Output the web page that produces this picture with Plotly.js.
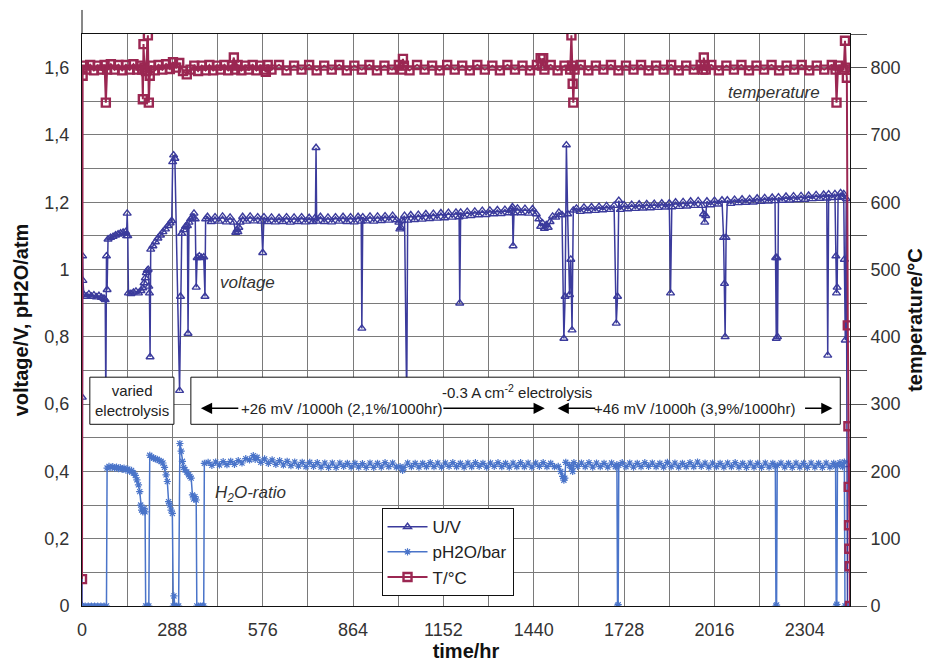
<!DOCTYPE html>
<html>
<head>
<meta charset="utf-8">
<script src="https://cdn.plot.ly/plotly-3.0.1.min.js"></script>
<style>html,body{margin:0;padding:0;background:#fff;}#chart{width:934px;height:662px;}</style>
</head>
<body>
<div id="chart"></div>
<script>
// ---- Data ----
// Cell voltage U/V
const uT = [0,1,2,3,6,14,22,30,38,46, 54,62,70,74,76,78,80,83,91,99, 107,115,123,131,139,142,144,146,148,156,
 164,172,180,188,194,198,202,205,208,211, 213,215,217,219,226,234,242,250,258,266, 274,281,286,289,292,296,311,314,318,324,
 330,336,338,341,346,352,357,361,364,367, 374,381,388,392,394,
 400,412,424,436,448,460,472,484,490,494, 497,500,504,512,524,536,548,560,572,576, 580,592,604,616,628,640,652,664,676,688,
 700,712,724,736,744,746,748,760,772,784, 796,808,820,832,844,856,868,880,890,892, 895,906,918,930,942,954,966,978,990,1002,
 1010,1013,1016,1020,1028,1035,1038,1048,1060,1072, 1084,1096,1108,1120,1132,1144,1156,1168,1180,1192,
 1202,1204,1207,1216,1228,1240,1252,1264,1276,1288, 1300,1312,1324,1336,1348,1360,1370,1372,1374,1377,
 1388,1400,1412,1424,1436,1448,1456,1462,1468,1474, 1480,1486,1492,1500,1510,1520,1530,1536,1540,1544,
 1548,1554,1558,1562,1566,1576,1588,1600,1612,1624, 1636,1648,1660,1672,1684,1696,1703,1707,1711,1716,
 1728,1740,1752,1764,1776,1788,1800,1812,1824,1836, 1848,1860,1872,1876,1880,1892,1904,1916,1928,1940,
 1952,1964,1976,1981,1985,1988,1992,2004,2016,2028, 2040,2045,2048,2050,2053,2057,2068,2080,2092,2104,
 2116,2128,2140,2152,2164,2176,2188,2200,2209,2211, 2213,2215,2217,2220,2232,2244,2256,2268,2280,2292,
 2304,2316,2328,2340,2352,2364,2374,2377,2380,2390, 2400,2403,2405,2407,2410,2418,2424,2428,2430,2433,
 2436,2438,2440,2443,2446];
const uV = [0,0.62,1.04,0.967,0.925,0.92,0.927,0.92,0.924,0.918, 0.922,0.917,0.914,0.91,0.60,1.04,0.94,1.09,1.095,1.098,
 1.102,1.105,1.108,1.11,1.112,1.10,1.167,1.10,0.93,0.928, 0.932,0.935,0.93,0.937,0.945,0.96,0.975,0.99,0.997,1.00,
 0.95,0.93,0.74,1.06,1.07,1.082,1.093,1.102,1.112,1.12, 1.13,1.138,1.145,1.32,1.34,1.33,0.64,0.92,1.107,1.118,
 1.128,1.13,0.81,1.14,1.15,1.155,1.167,1.15,0.947,1.035, 1.04,1.035,1.037,0.92,1.15,
 1.157,1.142,1.156,1.143,1.158,1.141,1.155,1.14,1.11,1.118, 1.112,1.125,1.14,1.157,1.143,1.158,1.144,1.156,1.143,1.05,
 1.156,1.142,1.155,1.141,1.154,1.142,1.156,1.14,1.155,1.142, 1.156,1.141,1.154,1.142,1.155,1.362,1.143,1.157,1.142,1.155,
 1.141,1.156,1.143,1.157,1.142,1.156,1.141,1.157,1.143,0.825, 1.156,1.144,1.158,1.143,1.158,1.145,1.159,1.146,1.16,1.147,
 1.14,1.12,1.125,1.145,1.16,0.60,1.146,1.162,1.148,1.163, 1.149,1.165,1.151,1.166,1.152,1.168,1.153,1.169,1.155,1.17,
 1.156,0.90,1.17,1.158,1.172,1.16,1.173,1.162,1.175,1.163, 1.176,1.165,1.177,1.166,1.178,1.168,1.179,1.186,1.07,1.168,
 1.182,1.168,1.181,1.167,1.18,1.165,1.15,1.128,1.138,1.122, 1.133,1.125,1.142,1.158,1.155,1.17,1.162,0.795,0.92,1.37,
 1.165,0.925,1.03,0.82,1.176,1.182,1.172,1.185,1.174,1.186, 1.175,1.187,1.177,1.189,1.178,1.19,0.84,0.92,1.205,1.178,
 1.192,1.18,1.193,1.181,1.194,1.182,1.195,1.183,1.196,1.184, 1.197,1.185,1.197,0.93,1.186,1.2,1.187,1.201,1.188,1.203,
 1.19,1.204,1.19,1.165,1.14,1.16,1.203,1.192,1.205,1.194, 1.206,1.095,0.958,0.80,1.095,1.206,1.196,1.208,1.198,1.209,
 1.199,1.21,1.2,1.212,1.202,1.213,1.203,1.214,1.204,1.035, 0.795,1.035,0.80,1.215,1.205,1.217,1.206,1.218,1.207,1.219,
 1.208,1.22,1.21,1.222,1.211,1.223,1.212,0.745,1.224,1.213, 1.225,1.04,0.93,0.947,1.214,1.228,1.216,1.225,1.03,0.79,
 1.21,0.42,0,0,0];

// Water partial pressure pH2O/bar
const pT = [0,10,20,30,40,50,60,70,78,80, 86,92,98,104,110,116,122,128,134,140, 146,152,158,164,170,175,180,184,187,190,
 194,198,201,203,208,213,216,222,228,234, 240,246,252,258,263,268,272,276,280,284, 288,291,293,296,302,308,312,316,320,324,
 328,334,340,344,348,352,356,360,364,366, 372,378,384,388,390,
 402,414,426,438,450,462,474,486,498,510, 522,534,546,552,558,570,582,594,606,618, 630,642,654,666,678,690,702,714,726,738,
 750,762,774,786,798,810,822,834,846,858, 870,882,894,906,918,930,942,954,966,978, 990,1002,1014,1022,1026,1038,1050,1062,1074,1086,
 1098,1110,1122,1134,1146,1158,1170,1182,1194,1206, 1218,1230,1242,1254,1266,1278,1290,1302,1314,1326,
 1338,1350,1362,1374,1386,1398,1410,1422,1434,1446, 1458,1470,1482,1494,1506,1518,1526,1532,1536,1539,
 1542,1554,1560,1564,1568,1580,1592,1604,1616,1628, 1640,1652,1664,1676,1688,1700,1705,1707,1709,1711,
 1722,1734,1746,1758,1770,1782,1794,1806,1818,1830, 1842,1854,1866,1878,1890,1902,1914,1926,1938,1950,
 1962,1974,1986,1998,2010,2022,2034,2046,2058,2070, 2082,2094,2106,2118,2130,2142,2154,2166,2178,2190,
 2202,2210,2212,2214,2216,2228,2240,2252,2264,2276, 2288,2300,2312,2324,2336,2348,2360,2372,2384,2396,
 2402,2404,2406,2408,2416,2424,2430,2432,2436,2440, 2444];
const pV = [0,0,0,0,0,0,0,0,0,0.41, 0.415,0.412,0.414,0.41,0.413,0.408,0.411,0.406,0.41,0.404,
 0.407,0.40,0.403,0.395,0.388,0.375,0.36,0.34,0.30,0.285, 0.28,0.29,0.28,0,0,0,0.448,0.442,0.44,0.437,
 0.436,0.432,0.43,0.425,0.412,0.39,0.37,0.31,0.30,0.285, 0.275,0,0.03,0,0,0,0.483,0.46,0.43,0.412,
 0.405,0.398,0.39,0.385,0.38,0.33,0.318,0.325,0.315,0, 0,0,0,0,0.424,
 0.427,0.418,0.428,0.419,0.429,0.42,0.43,0.421,0.432,0.425, 0.438,0.434,0.447,0.436,0.442,0.427,0.437,0.424,0.434,0.421,
 0.432,0.419,0.43,0.417,0.428,0.416,0.427,0.414,0.427,0.415, 0.426,0.413,0.425,0.412,0.425,0.412,0.425,0.415,0.424,0.413,
 0.424,0.413,0.423,0.412,0.425,0.412,0.424,0.413,0.426,0.414, 0.425,0.413,0.414,0.403,0.412,0.425,0.414,0.424,0.413,0.424,
 0.414,0.426,0.414,0.425,0.413,0.425,0.415,0.426,0.414,0.424, 0.413,0.425,0.414,0.426,0.415,0.424,0.413,0.425,0.415,0.426,
 0.414,0.424,0.413,0.425,0.414,0.426,0.414,0.425,0.413,0.425, 0.415,0.426,0.414,0.424,0.414,0.415,0.40,0.385,0.374,0.38,
 0.427,0.418,0.41,0.40,0.426,0.415,0.425,0.414,0.426,0.413, 0.425,0.414,0.424,0.413,0.425,0.414,0.42,0,0.004,0.418,
 0.426,0.414,0.425,0.413,0.424,0.414,0.426,0.415,0.425,0.414, 0.424,0.413,0.427,0.414,0.425,0.413,0.424,0.414,0.426,0.414,
 0.428,0.415,0.425,0.413,0.425,0.414,0.424,0.413,0.425,0.414, 0.426,0.413,0.424,0.412,0.425,0.413,0.424,0.412,0.425,0.413,
 0.424,0.415,0,0.003,0.418,0.425,0.413,0.424,0.412,0.425, 0.413,0.424,0.412,0.425,0.413,0.424,0.412,0.425,0.413,0.424,
 0.415,0,0.005,0.418,0.426,0.414,0.428,0,0,0, 0];

// Temperature T/°C
const tT = [0,2,6,14,26,38,50,62,72,76, 80,92,104,116,128,140,152,164,176,186, 192,194,196,199,204,210,213,216,220,232,
 244,256,268,280,290,300,310,322,334,346, 358,370,382,394,406,418,430,442,454,466, 478,484,488,496,508,520,532,544,556,568,
 580,586,592,604,628,652,676,700,724,748, 772,796,820,844,868,892,916,940,964,988, 1010,1020,1023,1026,1044,1068,1092,1116,1140,1164,
 1188,1212,1236,1260,1284,1308,1332,1356,1380,1404, 1428,1450,1462,1466,1470,1474,1494,1516,1538,1556,
 1560,1562,1564,1566,1570,1590,1614,1638,1662,1686, 1710,1734,1758,1782,1806,1830,1854,1878,1902,1926,
 1950,1972,1980,1982,1985,1988,2006,2030,2054,2078, 2102,2126,2150,2174,2198,2222,2246,2270,2294,2318,
 2342,2366,2390,2402,2405,2410,2428,2432,2435,2438, 2441,2443,2444,2445,2446,2447,2448];
const tV = [40,788,803,797,804,796,803,797,804,748, 797,805,797,804,796,804,797,805,797,803, 797,753,835,800,795,848,748,788,803,796,
 804,797,805,798,808,800,807,795,790,797, 803,795,803,796,804,796,803,797,804,796, 803,815,797,804,796,803,797,804,796,803,
 797,794,804,797,804,796,803,797,804,796, 803,797,804,796,803,797,804,796,803,797, 804,797,813,803,796,804,797,803,796,804,
 797,803,796,804,797,803,796,804,797,803, 796,804,814,803,814,797,804,796,803,797,
 848,803,776,748,797,804,796,803,797,804, 796,803,797,804,796,803,797,804,796,803,
 797,804,797,815,803,797,804,796,803,797, 804,796,803,797,804,796,803,797,804,796,
 803,797,804,797,748,803,797,840,800,785, 417,267,177,120,85,59,0];

// ---- Styling ----
const FONT = 'Liberation Sans, Arial, sans-serif';
const cU = '#3b3b9c', cP = '#4a74c9', cT = '#9b2752';
const grid = '#7a7a7a';

const traces = [
  {x: uT, y: uV, name: 'U/V', type: 'scatter', mode: 'lines+markers', yaxis: 'y',
   line: {color: cU, width: 1.5},
   marker: {symbol: 'triangle-up-open', size: 7, color: cU, line: {width: 1.4, color: cU}}},
  {x: pT, y: pV, name: 'pH2O/bar', type: 'scatter', mode: 'lines+markers', yaxis: 'y',
   line: {color: cP, width: 1.5},
   marker: {symbol: 'asterisk-open', size: 6, color: cP, line: {width: 1.2, color: cP}}},
  {x: tT, y: tV, name: 'T/°C', type: 'scatter', mode: 'lines+markers', yaxis: 'y2',
   line: {color: cT, width: 2},
   marker: {symbol: 'square-open', size: 8, color: cT, line: {width: 2.4, color: cT}}}
];

const arrowStyle = {showarrow: true, text: '', axref: 'x', ayref: 'y', xref: 'x', yref: 'y',
  arrowhead: 2, arrowsize: 1.4, arrowwidth: 1.6, arrowcolor: '#000'};

const layout = {
  width: 934, height: 662,
  margin: {l: 82, r: 84, t: 34, b: 56},
  paper_bgcolor: '#fff', plot_bgcolor: '#fff',
  separators: ',.',
  font: {family: FONT, size: 17, color: '#222'},
  showlegend: true,
  hovermode: false,
  xaxis: {
    range: [0, 2448], tick0: 0, dtick: 288, automargin: false,
    showgrid: true, gridcolor: grid, gridwidth: 1,
    minor: {dtick: 144, showgrid: true, gridcolor: grid, gridwidth: 1},
    showline: true, linecolor: '#111', linewidth: 1, mirror: true, zeroline: false,
    ticks: 'outside', ticklen: 7, tickcolor: 'rgba(0,0,0,0)',
    tickfont: {family: FONT, size: 18, color: '#333'},
    title: {text: '<b>time/hr</b>', font: {family: FONT, size: 20, color: '#111'}, standoff: 3}
  },
  yaxis: {
    range: [0, 1.7], tick0: 0, dtick: 0.2, automargin: false,
    showgrid: true, gridcolor: grid, gridwidth: 1,
    minor: {dtick: 0.1, showgrid: true, gridcolor: grid, gridwidth: 1},
    showline: true, linecolor: '#111', linewidth: 1, mirror: true, zeroline: false,
    ticks: 'outside', ticklen: 8, tickcolor: 'rgba(0,0,0,0)',
    tickfont: {family: FONT, size: 18, color: '#333'},
    title: {text: '<b>voltage/V, pH2O/atm</b>', font: {family: FONT, size: 20, color: '#111'}, standoff: 10}
  },
  yaxis2: {
    overlaying: 'y', side: 'right', range: [0, 850], tick0: 0, dtick: 100, automargin: false,
    showgrid: false, zeroline: false, showline: false,
    ticks: 'outside', ticklen: 16, tickcolor: '#555', tickwidth: 1,
    minor: {dtick: 50, ticks: 'outside', ticklen: 16, tickcolor: '#555', showgrid: false},
    tickfont: {family: FONT, size: 18, color: '#333'},
    title: {text: '<b>temperature/°C</b>', font: {family: FONT, size: 20, color: '#111'}, standoff: 8}
  },
  legend: {
    x: 0.39, y: 0.171, xanchor: 'left', yanchor: 'top',
    bgcolor: '#fff', bordercolor: '#111', borderwidth: 1, itemwidth: 40,
    font: {family: FONT, size: 17, color: '#222'}, tracegroupgap: 0
  },
  shapes: [
    {type: 'rect', xref: 'x', yref: 'y', x0: 25, x1: 293, y0: 0.54, y1: 0.68,
     fillcolor: '#fff', line: {color: '#111', width: 1}, layer: 'above'},
    {type: 'rect', xref: 'x', yref: 'y', x0: 347, x1: 2417, y0: 0.54, y1: 0.68,
     fillcolor: '#fff', line: {color: '#111', width: 1}, layer: 'above'},
    {type: 'line', xref: 'paper', yref: 'paper', x0: 0, x1: 0, y0: 1, y1: 1.042,
     line: {color: '#111', width: 1}}
  ],
  annotations: [
    {x: 433, y: 0.962, xref: 'x', yref: 'y', xanchor: 'left', showarrow: false,
     text: '<i>voltage</i>', font: {family: FONT, size: 17, color: '#333'}},
    {x: 417, y: 0.332, xref: 'x', yref: 'y', xanchor: 'left', showarrow: false,
     text: '<i>H<sub>2</sub>O-ratio</i>', font: {family: FONT, size: 17, color: '#333'}},
    {x: 2360, y: 763, xref: 'x', yref: 'y2', xanchor: 'right', showarrow: false,
     text: '<i>temperature</i>', font: {family: FONT, size: 17, color: '#333'}},
    {x: 159, y: 0.611, xref: 'x', yref: 'y', showarrow: false,
     text: 'varied<br>electrolysis', font: {family: FONT, size: 15, color: '#222'}},
    {x: 1386, y: 0.638, xref: 'x', yref: 'y', showarrow: false,
     text: '-0.3 A cm<sup>-2</sup> electrolysis', font: {family: FONT, size: 15, color: '#222'}},
    {x: 828, y: 0.5875, xref: 'x', yref: 'y', showarrow: false,
     text: '+26 mV /1000h (2,1%/1000hr)', font: {family: FONT, size: 15, color: '#222'}},
    {x: 1953, y: 0.5875, xref: 'x', yref: 'y', showarrow: false,
     text: '+46 mV /1000h (3,9%/1000hr)', font: {family: FONT, size: 15, color: '#222'}},
    Object.assign({x: 379, y: 0.5875, ax: 503, ay: 0.5875}, arrowStyle),
    Object.assign({x: 1475, y: 0.5875, ax: 1147, ay: 0.5875}, arrowStyle),
    Object.assign({x: 1516, y: 0.5875, ax: 1641, ay: 0.5875}, arrowStyle),
    Object.assign({x: 2392, y: 0.5875, ax: 2300, ay: 0.5875}, arrowStyle)
  ]
};

Plotly.newPlot('chart', traces, layout, {staticPlot: true, displayModeBar: false});
</script>
</body>
</html>
